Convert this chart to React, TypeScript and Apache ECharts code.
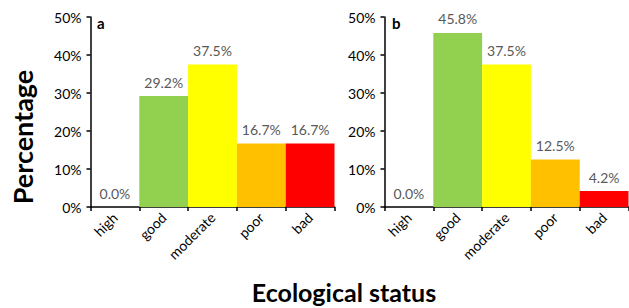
import React, { useEffect, useRef } from "react";
import * as echarts from "echarts";

const categories = ["high", "good", "moderate", "poor", "bad"];
const valuesA = [0.0, 29.2, 37.5, 16.7, 16.7];
const valuesB = [0.0, 45.8, 37.5, 12.5, 4.2];
const barColors = ["#FFFFFF", "#92D050", "#FFFF00", "#FFC000", "#FF0000"];
const panelLabels = ["a", "b"];
const yTicks = [0, 10, 20, 30, 40, 50];

const FONT = "Lato, 'Open Sans', sans-serif";

export default function App() {
  const ref = useRef<HTMLDivElement>(null);
  useEffect(() => {
    if (!ref.current) return;
    const chart = echarts.init(ref.current, undefined, { renderer: "svg" });
    const grids = [
      { left: 90.5, top: 17, width: 244, height: 190 },
      { left: 384.5, top: 17, width: 244, height: 190 },
    ];
    const mkX = (i: number) => ({
      type: "category",
      gridIndex: i,
      data: categories,
      boundaryGap: true,
      axisLine: { lineStyle: { color: "#000", width: 1.5 } },
      axisTick: { show: true, length: 4, lineStyle: { color: "#000", width: 1.5 } },
      axisLabel: {
        interval: 0,
        rotate: 45,
        color: "#000",
        fontFamily: FONT,
        fontSize: 14,
        margin: 8,
      },
      splitLine: { show: false },
    });
    const mkY = (i: number) => ({
      type: "value",
      gridIndex: i,
      min: 0,
      max: 50,
      interval: 10,
      axisLine: { show: true, lineStyle: { color: "#000", width: 1.5 } },
      axisTick: { show: true, length: 4, lineStyle: { color: "#000", width: 1.5 } },
      axisLabel: {
        color: "#000",
        fontFamily: FONT,
        fontSize: 14,
        margin: 9,
        formatter: (v: number) => (yTicks.includes(v) ? v + "%" : ""),
      },
      splitLine: { show: false },
    });
    const mkSeries = (i: number, vals: number[]) => ({
      type: "bar",
      xAxisIndex: i,
      yAxisIndex: i,
      barCategoryGap: "0%",
      data: vals.map((v, k) => ({ value: v, itemStyle: { color: barColors[k] } })),
      label: {
        show: true,
        position: "top",
        distance: 7,
        color: "#595959",
        fontFamily: FONT,
        fontSize: 14,
        formatter: (p: any) => p.value.toFixed(1) + "%",
      },
    });
    chart.setOption({
      animation: false,
      backgroundColor: "#fff",
      grid: grids,
      xAxis: [mkX(0), mkX(1)],
      yAxis: [mkY(0), mkY(1)],
      series: [mkSeries(0, valuesA), mkSeries(1, valuesB)],
      graphic: [
        {
          type: "text",
          left: 97,
          top: 15,
          style: { text: panelLabels[0], font: `bold 15px ${FONT}`, fill: "#000" },
        },
        {
          type: "text",
          left: 392,
          top: 15,
          style: { text: panelLabels[1], font: `bold 15px ${FONT}`, fill: "#000" },
        },
        {
          type: "text",
          x: 22,
          y: 137,
          rotation: Math.PI / 2,
          style: {
            text: "Percentage",
            font: `bold 27px ${FONT}`,
            fill: "#000",
            align: "center",
            verticalAlign: "middle",
          },
        },
        {
          type: "text",
          x: 344,
          y: 292,
          style: {
            text: "Ecological status",
            font: `bold 25px ${FONT}`,
            fill: "#000",
            align: "center",
            verticalAlign: "middle",
          },
        },
      ],
    });
    return () => chart.dispose();
  }, []);
  return (
    <div
      ref={ref}
      style={{ position: "fixed", left: 0, top: 0, width: 629, height: 308 }}
    />
  );
}
